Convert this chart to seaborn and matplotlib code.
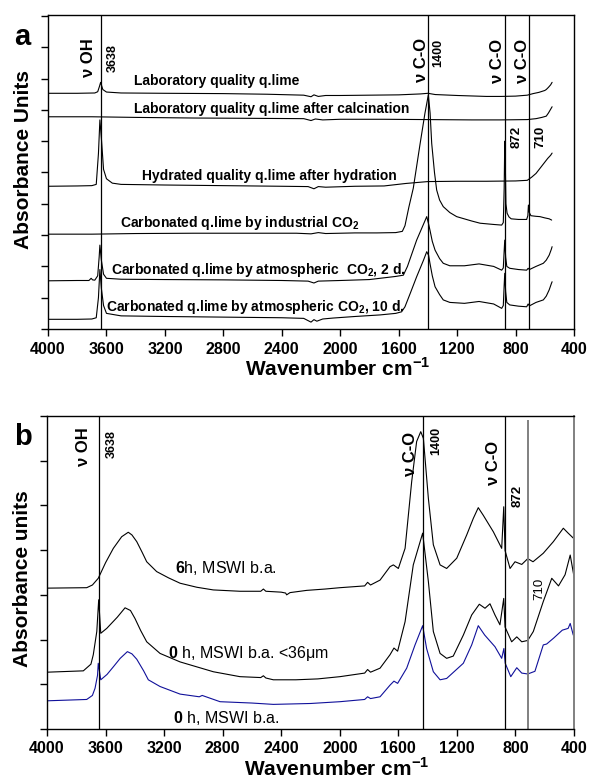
import numpy as np
import pandas as pd
import matplotlib
matplotlib.use("Agg")
import matplotlib.pyplot as plt
import seaborn as sns

# ---- panel a spectra (wavenumber, absorbance offset units) ----
lab_wn = [4000, 3800, 3680, 3660, 3648, 3640, 3625, 3600, 3500, 3200, 2800, 2500, 2250, 2200, 2180,
          2150, 2100, 2000, 1800, 1600, 1450, 1400, 1350, 1200, 1000, 900, 800, 720, 680, 640, 600,
          590, 575, 560, 550]
lab_ab = [7.53, 7.53, 7.54, 7.58, 7.75, 7.88, 7.65, 7.57, 7.54, 7.53, 7.52, 7.50, 7.47, 7.42, 7.48,
          7.43, 7.46, 7.46, 7.47, 7.48, 7.51, 7.53, 7.49, 7.46, 7.43, 7.43, 7.44, 7.47, 7.52, 7.56, 7.62,
          7.65, 7.72, 7.80, 7.88]

calc_wn = [4000, 3700, 3400, 3000, 2600, 2250, 2200, 2170, 2120, 2000, 1700, 1400, 1100, 900, 720,
           660, 620, 590, 575, 560, 550]
calc_ab = [6.78, 6.78, 6.76, 6.74, 6.73, 6.72, 6.66, 6.71, 6.68, 6.70, 6.70, 6.69, 6.68, 6.68, 6.69,
           6.72, 6.76, 6.80, 6.90, 7.02, 7.10]

hyd_wn = [4000, 3800, 3700, 3670, 3655, 3645, 3635, 3620, 3600, 3560, 3500, 3200, 2800, 2400, 2220,
          2180, 2150, 2100, 1900, 1700, 1550, 1400, 1200, 1000, 800, 720, 690, 660, 630, 600, 580,
          560, 550]
hyd_ab = [4.56, 4.57, 4.58, 4.62, 5.60, 6.68, 6.10, 5.10, 4.80, 4.66, 4.62, 4.60, 4.58, 4.56, 4.55,
          4.48, 4.55, 4.53, 4.56, 4.57, 4.65, 4.71, 4.72, 4.72, 4.73, 4.75, 4.85, 4.97, 5.15, 5.33, 5.45,
          5.55, 5.62]

ind_wn = [4000, 3700, 3400, 3000, 2600, 2300, 2200, 2150, 2100, 1900, 1750, 1620, 1575, 1557, 1530,
          1500, 1454, 1420, 1397, 1385, 1374, 1355, 1340, 1320, 1295, 1250, 1203, 1100, 1043, 950,
          895, 884, 878, 874, 870, 866, 858, 845, 830, 780, 724, 716, 712, 706, 695, 660, 633, 600,
          570, 553]
ind_ab = [3.03, 3.03, 3.05, 3.06, 3.06, 3.06, 3.04, 3.08, 3.05, 3.07, 3.07, 3.08, 3.12, 3.30, 3.90,
          4.50, 5.90, 6.90, 7.48, 6.90, 5.93, 5.00, 4.44, 4.12, 3.91, 3.72, 3.59, 3.45, 3.38, 3.34,
          3.32, 3.40, 4.50, 6.00, 5.20, 4.00, 3.70, 3.58, 3.52, 3.50, 3.50, 3.62, 3.96, 3.72, 3.62,
          3.60, 3.59, 3.55, 3.52, 3.48]

atm2_wn = [4000, 3800, 3720, 3705, 3695, 3680, 3660, 3650, 3645, 3635, 3620, 3600, 3500, 3200, 2800,
           2400, 2220, 2180, 2150, 2000, 1800, 1728, 1620, 1568, 1540, 1477, 1430, 1408, 1395, 1386,
           1370, 1351, 1320, 1295, 1250, 1150, 1050, 950, 895, 884, 878, 874, 868, 860, 840, 780,
           724, 714, 705, 660, 610, 590, 570, 555, 550]
atm2_ab = [1.54, 1.55, 1.55, 1.62, 1.57, 1.56, 1.70, 2.30, 2.68, 2.20, 1.75, 1.62, 1.59, 1.58, 1.57,
           1.55, 1.53, 1.47, 1.53, 1.55, 1.58, 1.62, 1.68, 1.72, 2.00, 2.84, 3.35, 3.59, 3.35, 3.16,
           2.80, 2.52, 2.25, 2.10, 2.02, 2.02, 2.08, 2.00, 1.88, 1.95, 2.50, 2.84, 2.30, 2.00, 1.94,
           1.90, 1.88, 1.94, 1.90, 2.00, 2.10, 2.20, 2.36, 2.55, 2.63]

atm10_wn = [4000, 3800, 3700, 3670, 3655, 3645, 3635, 3620, 3600, 3500, 3200, 2800, 2400, 2250, 2200,
            2180, 2160, 2120, 2050, 1900, 1728, 1620, 1580, 1557, 1520, 1477, 1430, 1408, 1395, 1386,
            1370, 1351, 1320, 1295, 1250, 1150, 1050, 950, 895, 884, 878, 874, 868, 860, 840, 780,
            724, 714, 705, 660, 610, 590, 570, 555, 550]
atm10_ab = [0.31, 0.31, 0.32, 0.36, 1.00, 1.90, 1.30, 0.75, 0.50, 0.42, 0.40, 0.38, 0.36, 0.34, 0.22,
            0.30, 0.25, 0.32, 0.35, 0.40, 0.45, 0.50, 0.55, 0.71, 1.15, 1.67, 2.20, 2.47, 2.35, 2.10,
            1.70, 1.35, 1.10, 0.93, 0.85, 0.82, 0.88, 0.80, 0.66, 0.75, 1.40, 1.78, 1.20, 0.85, 0.77,
            0.73, 0.71, 0.80, 0.74, 0.85, 0.93, 1.05, 1.25, 1.45, 1.51]

# ---- panel b spectra ----
h6_wn = [4000, 3729, 3690, 3650, 3600, 3547, 3490, 3445, 3420, 3387, 3350, 3319, 3251, 3170, 3091,
         2977, 2864, 2682, 2540, 2522, 2505, 2400, 2370, 2363, 2340, 2226, 2100, 1999, 1830, 1810,
         1790, 1725, 1657, 1634, 1600, 1554, 1509, 1475, 1447, 1429, 1395, 1361, 1315, 1270, 1201,
         1133, 1088, 1054, 1020, 951, 894, 880, 871, 837, 803, 757, 716, 680, 610, 541, 473, 440, 405]
h6_ab = [3.15, 3.16, 3.22, 3.37, 3.72, 4.04, 4.30, 4.40, 4.34, 4.19, 3.95, 3.74, 3.52, 3.38, 3.26,
         3.17, 3.11, 3.08, 3.08, 3.13, 3.08, 3.06, 3.04, 3.00, 3.05, 3.10, 3.13, 3.16, 3.20, 3.28,
         3.22, 3.33, 3.63, 3.67, 3.59, 4.04, 5.53, 6.43, 6.65, 6.50, 5.16, 4.12, 3.67, 3.59, 3.82,
         4.34, 4.71, 4.95, 4.78, 4.41, 4.04, 4.97, 3.99, 3.59, 3.74, 3.68, 3.81, 3.74, 3.93, 4.19,
         4.49, 4.38, 4.27]

h0f_wn = [4000, 3752, 3700, 3684, 3660, 3647, 3633, 3592, 3520, 3467, 3430, 3399, 3360, 3319, 3228,
          3091, 2864, 2682, 2540, 2522, 2505, 2454, 2300, 2150, 1999, 1830, 1810, 1790, 1725, 1657,
          1630, 1605, 1554, 1498, 1434, 1395, 1361, 1315, 1270, 1225, 1156, 1099, 1047, 1008, 974,
          940, 906, 880, 871, 826, 791, 757, 716, 678, 610, 552, 506, 461, 426, 398]
h0f_ab = [1.27, 1.30, 1.45, 1.66, 2.18, 2.89, 2.14, 2.25, 2.50, 2.71, 2.65, 2.47, 2.20, 1.95, 1.69,
          1.50, 1.28, 1.17, 1.15, 1.19, 1.14, 1.10, 1.10, 1.12, 1.17, 1.25, 1.33, 1.27, 1.36, 1.66,
          1.81, 1.74, 2.40, 3.67, 4.38, 3.30, 2.18, 1.69, 1.58, 1.63, 2.10, 2.55, 2.79, 2.70, 2.80,
          2.55, 2.33, 2.92, 2.28, 1.95, 2.06, 1.95, 1.98, 2.18, 2.85, 3.37, 3.20, 3.45, 3.89, 3.37]

h0_wn = [4000, 3729, 3690, 3672, 3655, 3650, 3633, 3590, 3547, 3500, 3451, 3420, 3387, 3340, 3308,
         3228, 3091, 2960, 2940, 2818, 2600, 2454, 2200, 1999, 1830, 1810, 1790, 1725, 1657, 1630,
         1605, 1543, 1486, 1434, 1407, 1361, 1315, 1270, 1156, 1099, 1054, 1010, 940, 894, 879, 870,
         832, 791, 757, 716, 667, 610, 587, 540, 480, 440, 426, 405]
h0_ab = [0.63, 0.66, 0.75, 0.91, 1.20, 1.47, 1.10, 1.22, 1.39, 1.58, 1.73, 1.68, 1.56, 1.30, 1.10,
         0.95, 0.78, 0.72, 0.75, 0.61, 0.58, 0.55, 0.57, 0.61, 0.66, 0.72, 0.68, 0.72, 0.98, 1.07,
         1.02, 1.36, 1.88, 2.31, 1.80, 1.28, 1.10, 1.13, 1.47, 1.88, 2.31, 2.10, 1.84, 1.58, 1.80,
         1.47, 1.17, 1.37, 1.25, 1.23, 1.29, 1.88, 1.90, 2.03, 2.21, 2.25, 2.36, 2.10]

x_ticks = [4000, 3600, 3200, 2800, 2400, 2000, 1600, 1200, 800, 400]
bands_a = [3638, 1400, 872, 710]
bands_b = [3648, 1430, 874]
band_710_b = 714

sns.set_style("ticks")
plt.rcParams['font.family'] = ['Liberation Sans', 'DejaVu Sans']
plt.rcParams['mathtext.fontset'] = 'custom'
plt.rcParams['mathtext.rm'] = 'Liberation Sans'
plt.rcParams['mathtext.bf'] = 'Liberation Sans:bold'
for key in ['text.color', 'axes.labelcolor', 'xtick.color', 'ytick.color', 'axes.edgecolor']:
    plt.rcParams[key] = 'black'


def draw(ax, wn, ab, color='black'):
    df = pd.DataFrame({'wn': wn, 'ab': ab})
    sns.lineplot(data=df, x='wn', y='ab', ax=ax, color=color, linewidth=0.8,
                 sort=False, estimator=None)


def style_axes(ax, ymax, ylabel):
    ax.set_xlim(4000, 400)
    ax.set_ylim(0, ymax)
    ax.set_xticks(x_ticks)
    ax.set_xticklabels([str(t) for t in x_ticks], fontsize=11.5, fontweight='bold')
    ax.set_yticks(range(0, int(ymax) + 1))
    ax.set_yticklabels([])
    ax.tick_params(direction='out', length=5, width=1, color='black', pad=4)
    for s in ax.spines.values():
        s.set_visible(True)
        s.set_color('black')
        s.set_linewidth(1.0)
    ax.set_xlabel(r'Wavenumber cm$^{\mathbf{-1}}$', fontsize=15, fontweight='bold', labelpad=2)
    ax.set_ylabel(ylabel, fontsize=15, fontweight='bold', labelpad=6)


fig = plt.figure(figsize=(5.9, 7.83), dpi=100)
ax_a = fig.add_axes([0.0814, 0.5798, 0.8915, 0.401])
ax_b = fig.add_axes([0.0797, 0.0690, 0.8932, 0.3997])

# ---- panel a ----
for wn, ab in [(lab_wn, lab_ab), (calc_wn, calc_ab), (hyd_wn, hyd_ab),
               (ind_wn, ind_ab), (atm2_wn, atm2_ab), (atm10_wn, atm10_ab)]:
    draw(ax_a, wn, ab)
for b in bands_a:
    ax_a.axvline(b, color='black', linewidth=0.9)
style_axes(ax_a, 10.03, 'Absorbance Units')

lbl = dict(fontsize=10, fontweight='bold', ha='left', va='center')
ax_a.text(3411, 7.92, 'Laboratory quality q.lime', **lbl)
ax_a.text(3411, 7.03, 'Laboratory quality q.lime after calcination', **lbl)
ax_a.text(3359, 4.88, 'Hydrated quality q.lime after hydration', **lbl)
ax_a.text(3507, 3.39, r'Carbonated q.lime by industrial CO$_\mathbf{2}$', **lbl)
ax_a.text(3569, 1.88, r'Carbonated q.lime by atmospheric  CO$_\mathbf{2}$, 2 d.', **lbl)
ax_a.text(3605, 0.71, r'Carbonated q.lime by atmospheric CO$_\mathbf{2}$, 10 d.', **lbl)

rot = dict(rotation=90, ha='center', va='center', fontweight='bold')
ax_a.text(3726, 8.66, 'ν OH', fontsize=12, **rot)
ax_a.text(3555, 8.67, '3638', fontsize=9, **rot)
ax_a.text(1445, 8.61, 'ν C-O', fontsize=12, **rot)
ax_a.text(1329, 8.83, '1400', fontsize=9, **rot)
ax_a.text(925, 8.57, 'ν C-O', fontsize=12, **rot)
ax_a.text(754, 8.57, 'ν C-O', fontsize=12, **rot)
ax_a.text(792, 6.15, '872', fontsize=9.5, **rot)
ax_a.text(633, 6.15, '710', fontsize=9.5, **rot)
fig.text(22 / 590, 1 - 37 / 783, 'a', fontsize=21, fontweight='bold', ha='center', va='center')

# ---- panel b ----
draw(ax_b, h6_wn, h6_ab)
draw(ax_b, h0f_wn, h0f_ab)
draw(ax_b, h0_wn, h0_ab, color='#10109a')
for b in bands_b:
    ax_b.axvline(b, color='black', linewidth=0.9)
ax_b.vlines(band_710_b, 0, 6.9, color='#808080', linewidth=1.4)
style_axes(ax_b, 7.0, 'Absorbance units')
ax_b.spines['right'].set_color('#808080')
ax_b.spines['right'].set_linewidth(1.4)

lbl_b = dict(fontsize=11.5, ha='left', va='center')
ax_b.text(3126, 3.60, r'$\mathbf{6}$h, MSWI b.a.', **lbl_b)
ax_b.text(3173, 1.68, r'$\mathbf{0}$ h, MSWI b.a. <36μm', **lbl_b)
ax_b.text(3139, 0.25, r'$\mathbf{0}$ h, MSWI b.a.', **lbl_b)

ax_b.text(3754, 6.31, 'ν OH', fontsize=12, **rot)
ax_b.text(3558, 6.38, '3638', fontsize=9, **rot)
ax_b.text(1520, 6.15, 'ν C-O', fontsize=12, **rot)
ax_b.text(1338, 6.44, '1400', fontsize=9, **rot)
ax_b.text(951, 5.96, 'ν C-O', fontsize=12, **rot)
ax_b.text(785, 5.21, '872', fontsize=9.5, **rot)
ax_b.text(639, 3.13, '710', fontsize=9.5, rotation=90, ha='center', va='center')
fig.text(23 / 590, 1 - 437 / 783, 'b', fontsize=21, fontweight='bold', ha='center', va='center')

ax_a.yaxis.set_label_coords(-0.028, 0.54)
ax_b.yaxis.set_label_coords(-0.028, 0.48)
for ax in (ax_a, ax_b):
    ax.xaxis.set_label_coords(0.55, -0.09)

fig.savefig('out.png', dpi=100)
